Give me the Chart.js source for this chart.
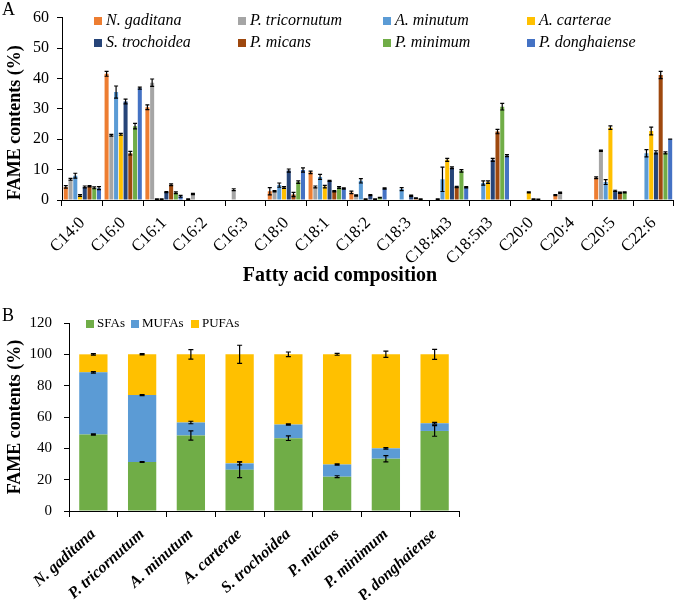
<!DOCTYPE html>
<html>
<head>
<meta charset="utf-8">
<script src="https://cdn.jsdelivr.net/npm/chart.js@4.4.1/dist/chart.umd.min.js"></script>
<style>
  body { margin: 0; background: #fff; }
  #wrap { position: relative; width: 675px; height: 600px; font-family: 'Liberation Serif', 'Times New Roman', serif; color: #000; }
  #wrap canvas { position: absolute; left: 0; }
  .panel { position: absolute; left: 2px; font-size: 18px; line-height: 18px; }
  #xTitleA { position: absolute; left: 240px; width: 200px; top: 264px; text-align: center; font-size: 20px; font-weight: bold; line-height: 20px; white-space: nowrap; }
</style>
</head>
<body>
<div id="wrap">
  <canvas id="chartA" width="675" height="290" style="top:0"></canvas>
  <canvas id="chartB" width="675" height="310" style="top:290px"></canvas>
  <div class="panel" style="top:0">A</div>
  <div class="panel" style="top:306px">B</div>
  <div id="xTitleA">Fatty acid composition</div>
</div>
<script>
// ---- panel A data (FAME %, mean and SD per species)
var fattyAcids = ['C14:0', 'C16:0', 'C16:1', 'C16:2', 'C16:3', 'C18:0', 'C18:1', 'C18:2',
                  'C18:3', 'C18:4n3', 'C18:5n3', 'C20:0', 'C20:4', 'C20:5', 'C22:6'];

var nGaditana    = [4.3, 41.5, 30.5, 0.3, 0,   2.9, 9.1, 2.5, 0,   0,    0,    0,   1.6, 7.3,  0];
var pTricornutum = [6.8, 21.3, 38.6, 2.0, 3.4, 2.9, 4.3, 1.5, 0,   0.3,  0,    0,   2.4, 16.2, 0];
var aMinutum     = [8.0, 35.5, 0.3,  0,   0,   4.9, 7.6, 6.3, 3.6, 6.8,  5.6,  0,   0,   5.9,  15.4];
var aCarterae    = [1.5, 21.6, 0.3,  0,   0,   4.1, 4.4, 0.3, 0,   13.2, 5.9,  2.5, 0,   23.8, 22.7];
var sTrochoidea  = [4.3, 32.4, 2.6,  0,   0,   9.7, 6.3, 1.6, 1.4, 10.6, 13.2, 0.3, 0,   3.0,  15.7];
var pMicans      = [4.5, 15.4, 5.0,  0,   0,   1.8, 2.9, 0.3, 0.6, 4.3,  22.5, 0.2, 0,   2.4,  41.1];
var pMinimum     = [4.0, 24.3, 2.4,  0,   0,   5.9, 4.1, 0.8, 0.3, 9.6,  30.7, 0,   0,   2.5,  15.5];
var pDonghaiense = [3.9, 36.8, 1.2,  0,   0,   9.9, 3.8, 3.8, 0,   4.2,  14.6, 0,   0,   0,    20.0];

var nGaditanaSd    = [0.4, 0.8, 0.8, 0.1, 0,   1.2, 0.4, 0.4, 0,   0,   0,   0,   0.2, 0.3, 0];
var pTricornutumSd = [0.3, 0.3, 1.2, 0.2, 0.3, 0.2, 0.3, 0.2, 0,   0.1, 0,   0,   0.2, 0.2, 0];
var aMinutumSd     = [0.8, 2.0, 0.1, 0,   0,   0.7, 0.8, 0.7, 0.5, 4.0, 0.7, 0,   0,   0.8, 1.2];
var aCarteraeSd    = [0.3, 0.3, 0.1, 0,   0,   0.3, 0.4, 0.1, 0,   0.5, 0.4, 0.2, 0,   0.6, 1.3];
var sTrochoideaSd  = [0.3, 0.8, 0.2, 0,   0,   0.5, 0.2, 0.2, 0.2, 0.3, 0.5, 0.1, 0,   0.2, 0.5];
var pMicansSd      = [0.2, 0.6, 0.3, 0,   0,   0.7, 0.2, 0.1, 0.1, 0.2, 0.7, 0.1, 0,   0.2, 1.2];
var pMinimumSd     = [0.3, 0.9, 0.3, 0,   0,   0.4, 0.3, 0.1, 0.1, 0.4, 1.1, 0,   0,   0.2, 0.3];
var pDonghaienseSd = [0.5, 0.3, 0.3, 0,   0,   0.7, 0.2, 0.2, 0,   0.2, 0.3, 0,   0,   0,   0];

// ---- panel B data (lipid classes, stacked to 100%)
var strains = ['N. gaditana', 'P. tricornutum', 'A. minutum', 'A. carterae',
               'S. trochoidea', 'P. micans', 'P. minimum', 'P. donghaiense'];
var sfa    = [48.8, 31.3, 48.2, 26.3, 46.5, 21.9, 33.4, 51.1];
var mufa   = [39.7, 42.7, 8.3, 4.1, 8.7, 7.8, 6.6, 4.9];
var pufa   = [11.5, 26.0, 43.5, 69.6, 44.8, 70.3, 60.0, 44.0];
var sfaSd  = [0.4, 0.3, 3.0, 5.0, 1.5, 0.6, 2.0, 3.4];
var mufaSd = [0.5, 0.3, 0.8, 1.0, 0.4, 0.4, 0.5, 0.6];
var pufaSd = [0.5, 0.4, 3.0, 5.8, 1.5, 0.6, 2.0, 3.2];

var yTicksA = [0, 10, 20, 30, 40, 50, 60];
var yTicksB = [0, 20, 40, 60, 80, 100, 120];

var FONT = "'Liberation Serif', 'Times New Roman', serif";
Chart.defaults.font.family = FONT;
Chart.defaults.color = '#000';

// error bars drawn through the y scale
var errorBars = {
    id: 'errorBars',
    afterDatasetsDraw: function (chart, args, opts) {
        var ctx = chart.ctx, y = chart.scales.y, sets = chart.data.datasets;
        ctx.save();
        ctx.strokeStyle = '#000';
        ctx.lineWidth = opts.lineWidth;
        sets.forEach(function (ds, d) {
            if (!ds.errors) return;
            chart.getDatasetMeta(d).data.forEach(function (bar, i) {
                if (!ds.data[i]) return;
                var top = ds.data[i];
                if (opts.stacked) {
                    top = 0;
                    for (var k = 0; k <= d; k++) top += sets[k].data[i];
                }
                var e = ds.errors[i];
                var y1 = y.getPixelForValue(top + e), y2 = y.getPixelForValue(top - e);
                var hw = opts.cap / 2;
                ctx.beginPath();
                ctx.moveTo(bar.x, y1); ctx.lineTo(bar.x, y2);
                ctx.moveTo(bar.x - hw, y1); ctx.lineTo(bar.x + hw, y1);
                ctx.moveTo(bar.x - hw, y2); ctx.lineTo(bar.x + hw, y2);
                ctx.stroke();
            });
        });
        ctx.restore();
    }
};

// legend laid out in fixed columns, inside the plot
var boxLegend = {
    id: 'boxLegend',
    afterDraw: function (chart, args, opts) {
        var ctx = chart.ctx;
        ctx.save();
        ctx.font = opts.font;
        ctx.textBaseline = 'middle';
        chart.data.datasets.forEach(function (ds, i) {
            var x = opts.xs[i % opts.cols], y = opts.ys[Math.floor(i / opts.cols)];
            ctx.fillStyle = ds.backgroundColor;
            ctx.fillRect(x, y - opts.box / 2, opts.box, opts.box);
            ctx.fillStyle = '#000';
            ctx.fillText(ds.label, x + opts.box + opts.gap, y);
        });
        ctx.restore();
    }
};

function axisGrid(len) {
    return { drawOnChartArea: false, drawTicks: true, tickLength: len, color: '#000', lineWidth: 1 };
}

// ---- chart A
var seriesA = [nGaditana, pTricornutum, aMinutum, aCarterae, sTrochoidea, pMicans, pMinimum, pDonghaiense];
var sdA = [nGaditanaSd, pTricornutumSd, aMinutumSd, aCarteraeSd, sTrochoideaSd, pMicansSd, pMinimumSd, pDonghaienseSd];
var namesA = ['N. gaditana', 'P. tricornutum', 'A. minutum', 'A. carterae', 'S. trochoidea', 'P. micans', 'P. minimum', 'P. donghaiense'];
var coloursA = ['#ED7D31', '#A5A5A5', '#5B9BD5', '#FFC000', '#264478', '#9E480E', '#70AD47', '#4472C4'];

new Chart(document.getElementById('chartA'), {
    type: 'bar',
    data: {
        labels: fattyAcids,
        datasets: seriesA.map(function (s, i) {
            return { label: namesA[i], data: s, errors: sdA[i], backgroundColor: coloursA[i],
                     categoryPercentage: 0.93, barPercentage: 0.85 };
        })
    },
    plugins: [errorBars, boxLegend],
    options: {
        responsive: false,
        animation: false,
        layout: { padding: { top: 15, right: 0, left: 0, bottom: 0 } },
        plugins: {
            legend: { display: false },
            tooltip: { enabled: false },
            errorBars: { lineWidth: 1.2, cap: 4 },
            boxLegend: { font: 'italic 16px ' + FONT, cols: 4, xs: [94, 238, 383, 527], ys: [21, 43], box: 8, gap: 4 }
        },
        scales: {
            x: {
                grid: Object.assign(axisGrid(6), { offset: true }),
                border: { color: '#000' },
                ticks: { font: { size: 17 }, color: '#000', minRotation: 45, maxRotation: 45, autoSkip: false, padding: 7 },
                afterFit: function (s) { s.height = 90; }
            },
            y: {
                min: 0, max: 60,
                afterBuildTicks: function (s) { s.ticks = yTicksA.map(function (v) { return { value: v }; }); },
                grid: axisGrid(5),
                border: { color: '#000' },
                ticks: { font: { size: 16 }, color: '#000', padding: 8 },
                title: { display: true, text: 'FAME contents (%)', align: 'start', font: { size: 18, weight: 'bold' }, color: '#000', padding: { top: 5, bottom: 0 } },
                afterFit: function (s) { s.width = 62; }
            }
        }
    }
});

// ---- chart B
new Chart(document.getElementById('chartB'), {
    type: 'bar',
    data: {
        labels: strains,
        datasets: [
            { label: 'SFAs', data: sfa, errors: sfaSd, backgroundColor: '#70AD47' },
            { label: 'MUFAs', data: mufa, errors: mufaSd, backgroundColor: '#5B9BD5' },
            { label: 'PUFAs', data: pufa, errors: pufaSd, backgroundColor: '#FFC000' }
        ]
    },
    plugins: [errorBars, boxLegend],
    options: {
        responsive: false,
        animation: false,
        layout: { padding: { top: 33, right: 216, left: 0, bottom: 0 } },
        datasets: { bar: { categoryPercentage: 1, barPercentage: 0.58 } },
        plugins: {
            legend: { display: false },
            tooltip: { enabled: false },
            errorBars: { lineWidth: 1.2, cap: 5, stacked: true },
            boxLegend: { font: '13px ' + FONT, cols: 3, xs: [86, 131, 191], ys: [34], box: 8, gap: 3 }
        },
        scales: {
            x: {
                stacked: true,
                grid: Object.assign(axisGrid(6), { offset: true }),
                border: { color: '#000' },
                ticks: { font: { size: 16, style: 'italic', weight: 'bold' }, color: '#000', minRotation: 42, maxRotation: 42, autoSkip: false, padding: 8 },
                afterFit: function (s) { s.height = 89; }
            },
            y: {
                stacked: true,
                min: 0, max: 120,
                afterBuildTicks: function (s) { s.ticks = yTicksB.map(function (v) { return { value: v }; }); },
                grid: axisGrid(5),
                border: { color: '#000' },
                ticks: { font: { size: 15 }, color: '#000', padding: 12 },
                title: { display: true, text: 'FAME contents (%)', font: { size: 18, weight: 'bold' }, color: '#000', padding: { top: 5, bottom: 0 } },
                afterFit: function (s) { s.width = 69; }
            }
        }
    }
});
</script>
</body>
</html>
